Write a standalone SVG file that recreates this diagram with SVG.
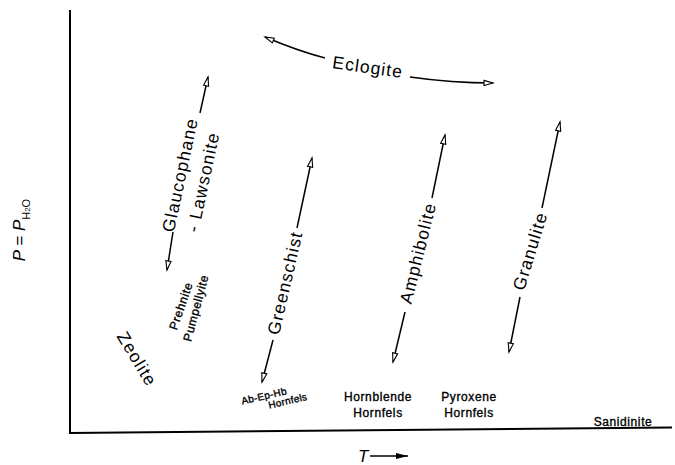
<svg xmlns="http://www.w3.org/2000/svg" width="675" height="465" viewBox="0 0 675 465">
<style>
.big{font-family:"Liberation Sans",Arial,sans-serif;font-size:17.5px;letter-spacing:1.1px;fill:#000}
.small{font-family:"Liberation Sans",Arial,sans-serif;font-size:12px;letter-spacing:0.6px;fill:#000;stroke:#000;stroke-width:0.35}
.ln{fill:none;stroke:#000;stroke-width:1.5;marker-end:url(#ah)}
.ax{fill:none;stroke:#000;stroke-width:2}
</style>
<defs>
<marker id="ah" markerUnits="userSpaceOnUse" viewBox="-10 -4 12 8" refX="0" refY="0" markerWidth="12" markerHeight="8" orient="auto">
<path d="M-9,-2.6 L0,0 L-9,2.6 Z" fill="#fff" stroke="#000" stroke-width="1.1"/>
</marker>
<marker id="ahf" markerUnits="userSpaceOnUse" viewBox="-13 -4 14 8" refX="0" refY="0" markerWidth="14" markerHeight="8" orient="auto">
<path d="M-12,-3 L0,0 L-12,3 Z" fill="#000"/>
</marker>
</defs>
<rect width="675" height="465" fill="#fff"/>

<g id="axes">
<line class="ax" x1="70" y1="10" x2="70" y2="433"/>
<line class="ax" x1="69" y1="433" x2="672" y2="427.5"/>
<text transform="translate(25,230) rotate(-90)" text-anchor="middle" font-family="Liberation Sans,Arial,sans-serif" font-size="17" font-style="italic">P = P<tspan font-size="11" font-style="normal" dy="5">H</tspan><tspan font-size="8" font-style="normal">2</tspan><tspan font-size="11" font-style="normal">O</tspan></text>
<text x="358" y="462" font-family="Liberation Sans,Arial,sans-serif" font-size="17" font-style="italic">T</text>
<line x1="370" y1="456" x2="408" y2="456" stroke="#000" stroke-width="1.6" marker-end="url(#ahf)"/>
</g>

<g id="connectors">
<path class="ln" d="M325,58 Q298,51 265,37"/>
<path class="ln" d="M410,77 Q452,83 493,83"/>
<line class="ln" x1="200" y1="113" x2="208" y2="77"/>
<line class="ln" x1="173" y1="232" x2="167" y2="270"/>
<line class="ln" x1="297" y1="228" x2="312" y2="158"/>
<line class="ln" x1="273" y1="340" x2="262" y2="382"/>
<line class="ln" x1="432" y1="198" x2="445" y2="135"/>
<line class="ln" x1="405" y1="312" x2="393" y2="362"/>
<line class="ln" x1="542" y1="208" x2="560" y2="122"/>
<line class="ln" x1="520" y1="297" x2="509" y2="352"/>
</g>

<g id="eclogite"><text class="big" transform="translate(367,73) rotate(8)" text-anchor="middle">Eclogite</text></g>
<g id="glaucophane">
<text class="big" transform="translate(180,175) rotate(-78)" text-anchor="middle" dy="6">Glaucophane</text>
<text class="big" transform="translate(203,182) rotate(-78)" text-anchor="middle" dy="6">- Lawsonite</text>
</g>
<g id="prehnite">
<text class="small" transform="translate(181,306) rotate(-71)" text-anchor="middle" dy="4">Prehnite</text>
<text class="small" transform="translate(196,308) rotate(-75)" text-anchor="middle" dy="4">Pumpellyite</text>
</g>
<g id="zeolite"><text class="big" transform="translate(137,359) rotate(59)" text-anchor="middle" dy="6">Zeolite</text></g>
<g id="greenschist"><text class="big" transform="translate(285,283) rotate(-77)" text-anchor="middle" dy="6">Greenschist</text></g>
<g id="amphibolite"><text class="big" transform="translate(418,253) rotate(-76)" text-anchor="middle" dy="6">Amphibolite</text></g>
<g id="granulite"><text class="big" transform="translate(530,251) rotate(-73)" text-anchor="middle" dy="6">Granulite</text></g>
<g id="abephb" transform="translate(264,396) rotate(-13)">
<text class="small" style="font-size:10px;letter-spacing:0.3px" text-anchor="middle" dy="3.5">Ab-Ep-Hb</text>
<text class="small" style="font-size:10px;letter-spacing:0.3px" x="22" y="10" text-anchor="middle" dy="3.5">Hornfels</text>
</g>
<g id="hornblende">
<text class="small" x="378" y="401" text-anchor="middle">Hornblende</text>
<text class="small" x="378" y="417" text-anchor="middle">Hornfels</text>
</g>
<g id="pyroxene">
<text class="small" x="469" y="401" text-anchor="middle">Pyroxene</text>
<text class="small" x="469" y="417" text-anchor="middle">Hornfels</text>
</g>
<g id="sanidinite"><text class="small" x="623" y="425.5" text-anchor="middle">Sanidinite</text></g>
</svg>
